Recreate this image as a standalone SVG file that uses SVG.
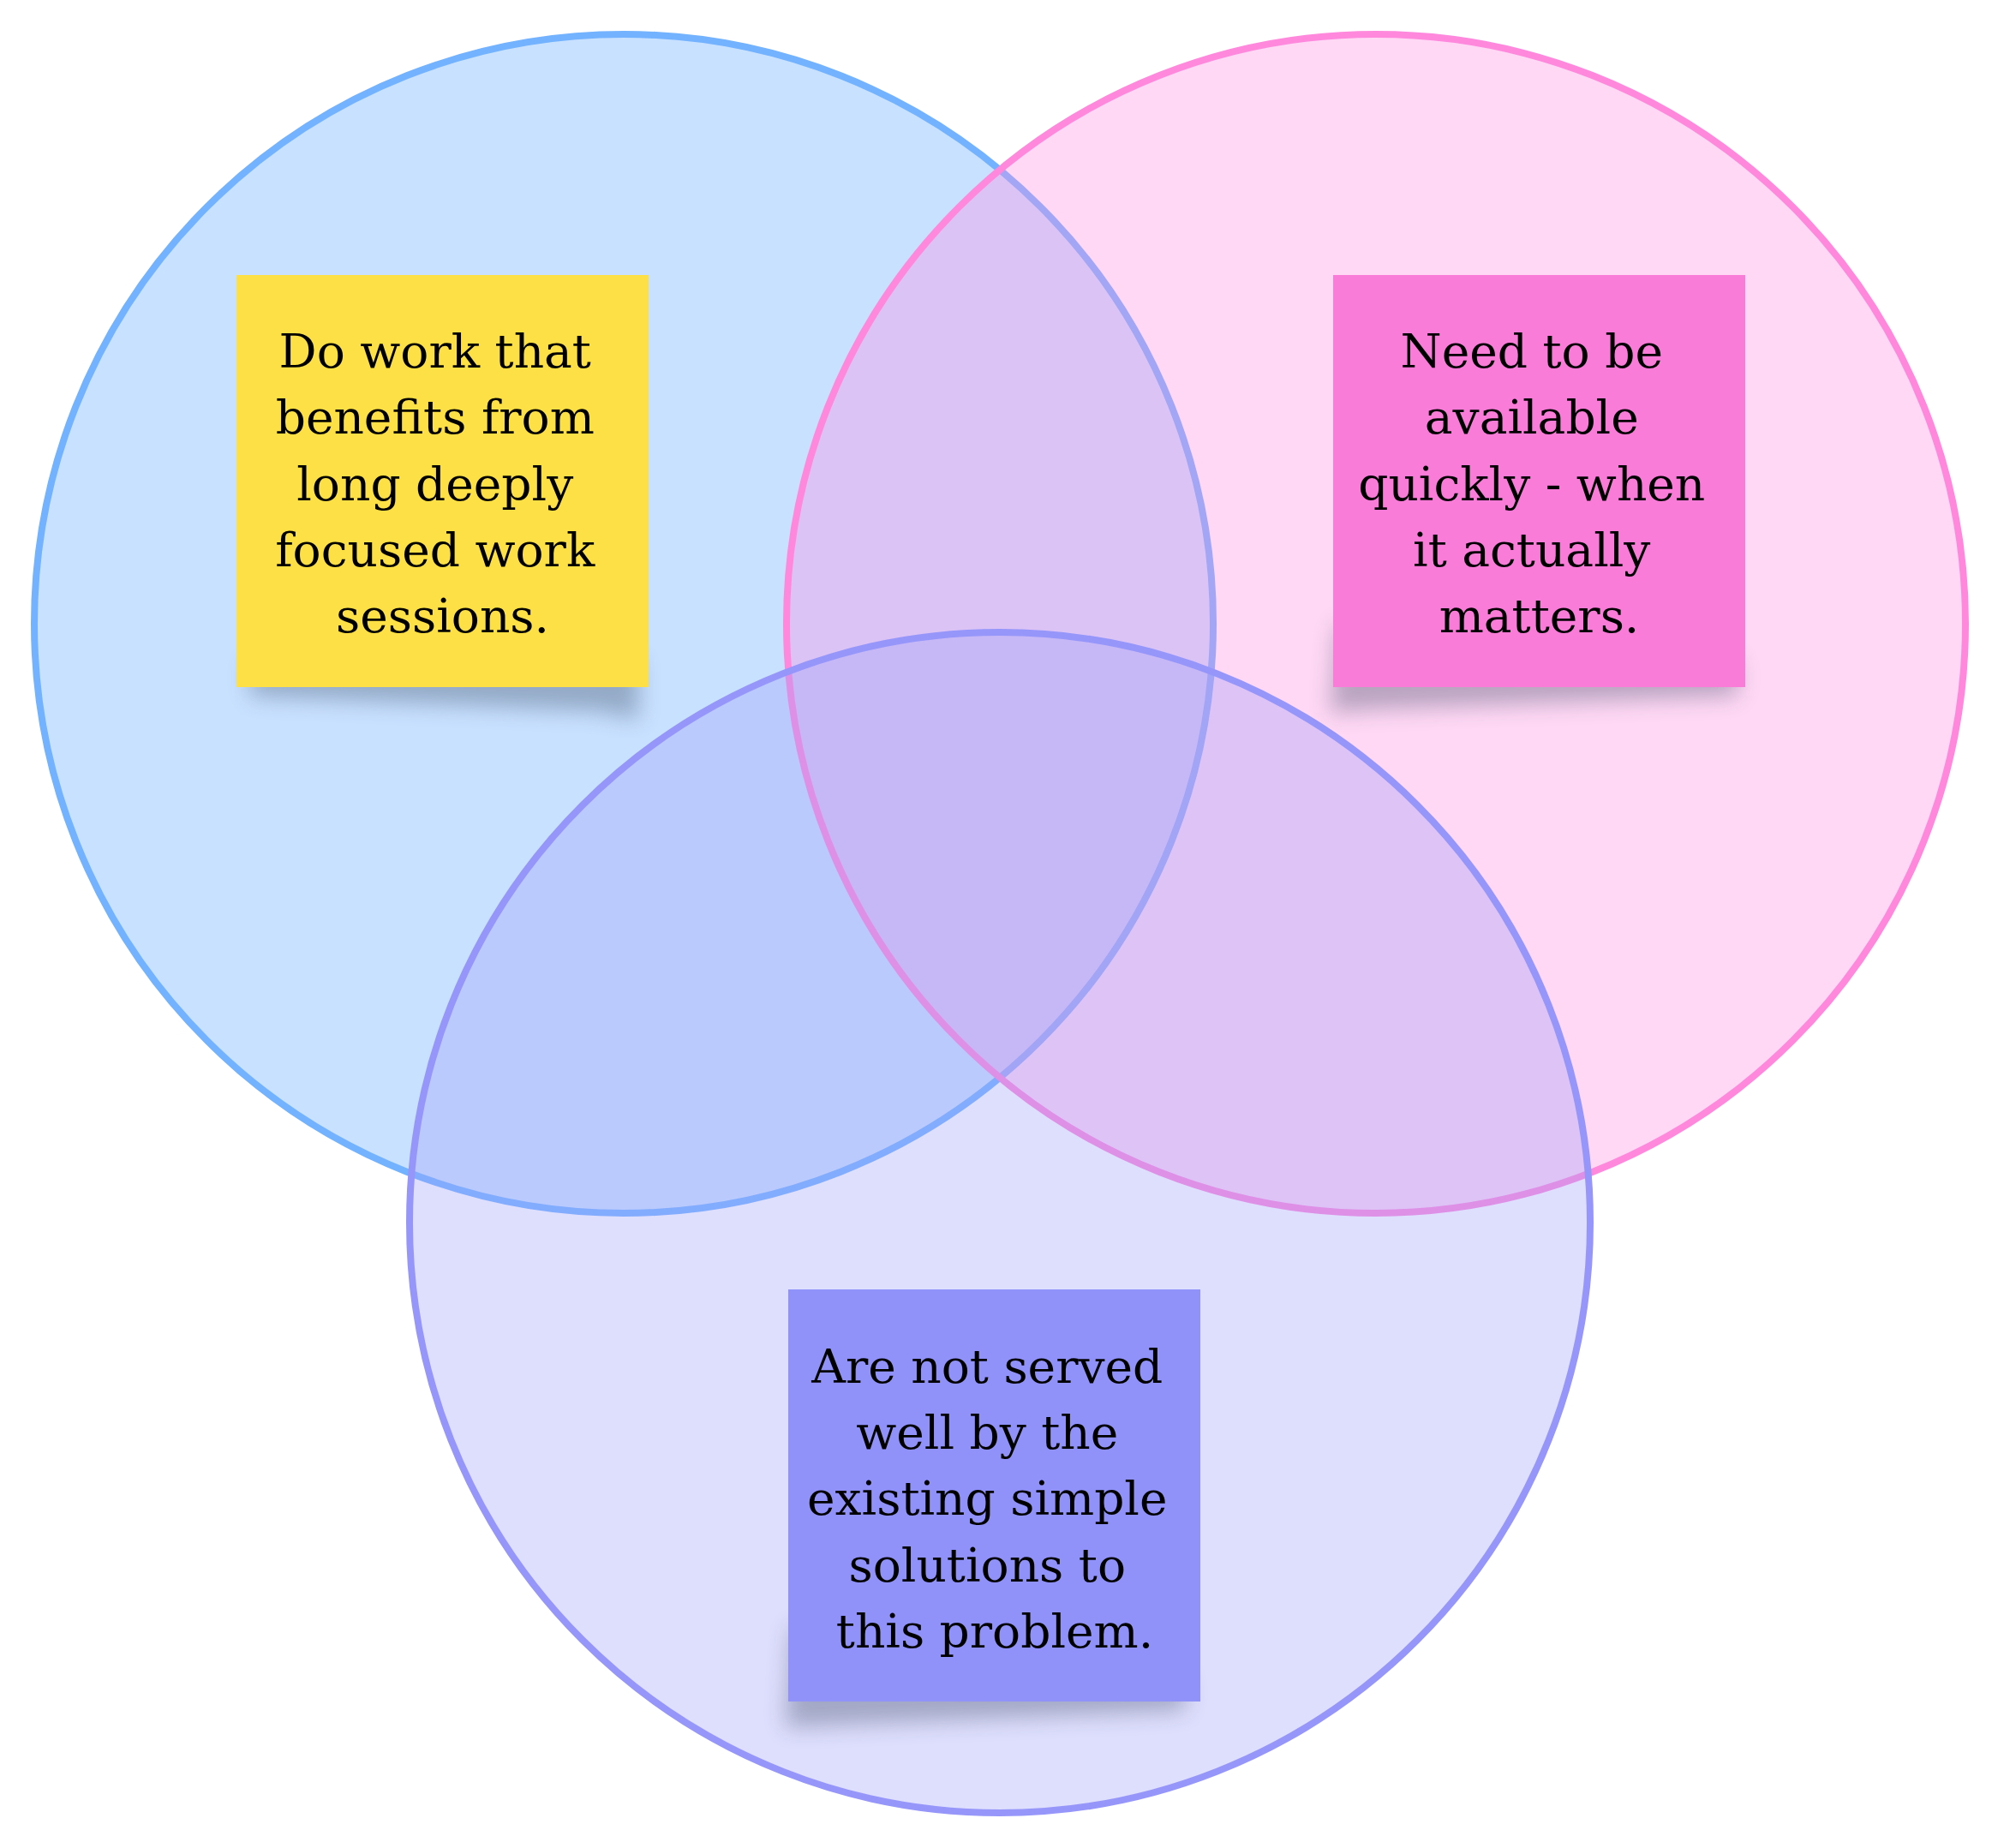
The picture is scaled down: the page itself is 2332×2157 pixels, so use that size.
<svg xmlns="http://www.w3.org/2000/svg" width="2332" height="2157" viewBox="0 0 2332 2157">
  <defs>
    <filter id="soft" x="-30%" y="-30%" width="160%" height="160%">
      <feGaussianBlur stdDeviation="13"/>
    </filter>
  </defs>
  <style>
    .c { stroke-width: 8; fill-opacity: 0.35; }
    .c-blue { fill: #62A9FF; stroke: #72B2FF; }
    .c-pink { fill: #FF90E2; stroke: #FF88DD; }
    .c-purple { fill: #A1A1F9; stroke: #9696FA; }
    .shadow { fill: #2B3A55; opacity: 0.33; filter: url(#soft); }
    .note-text { font-family: "DejaVu Serif", "Liberation Serif", serif; font-size: 55px; fill: #000000; text-anchor: middle; }
  </style>
  <rect width="2332" height="2157" fill="#FFFFFF"/>

  <g id="circle-blue">
    <circle class="c c-blue" cx="728" cy="728" r="688"/>
  </g>
  <g id="circle-pink">
    <circle class="c c-pink" cx="1606" cy="728" r="688"/>
  </g>
  <g id="circle-purple">
    <circle class="c c-purple" cx="1167" cy="1427" r="689"/>
  </g>

  <g id="connectors"></g>

  <g id="note-yellow">
    <polygon class="shadow" points="292,770 745,770 745,840 700,830 292,812"/>
    <rect x="276" y="321" width="481" height="481" fill="#FCE045"/>
    <text class="note-text" x="516.5">
      <tspan x="516.5" y="429">Do work that</tspan>
      <tspan x="516.5" y="506">benefits from</tspan>
      <tspan x="516.5" y="584">long deeply</tspan>
      <tspan x="516.5" y="661">focused work</tspan>
      <tspan x="516.5" y="738">sessions.</tspan>
    </text>
  </g>

  <g id="note-pink">
    <polygon class="shadow" points="1560,730 1580,730 1580,770 2028,770 2028,812 1600,828 1553,832"/>
    <rect x="1556" y="321" width="481" height="481" fill="#F97DD8"/>
    <text class="note-text" x="1796.5">
      <tspan x="1796.5" y="429">Need to be</tspan>
      <tspan x="1796.5" y="506">available</tspan>
      <tspan x="1796.5" y="584">quickly - when</tspan>
      <tspan x="1796.5" y="661">it actually</tspan>
      <tspan x="1796.5" y="738">matters.</tspan>
    </text>
  </g>

  <g id="note-purple">
    <polygon class="shadow" points="924,1900 944,1900 944,1955 1383,1955 1383,1996 960,2014 917,2016"/>
    <rect x="920" y="1505" width="481" height="481" fill="#9191FA"/>
    <text class="note-text" x="1161">
      <tspan x="1161" y="1614">Are not served</tspan>
      <tspan x="1161" y="1691">well by the</tspan>
      <tspan x="1161" y="1768">existing simple</tspan>
      <tspan x="1161" y="1846">solutions to</tspan>
      <tspan x="1161" y="1923">this problem.</tspan>
    </text>
  </g>
</svg>
